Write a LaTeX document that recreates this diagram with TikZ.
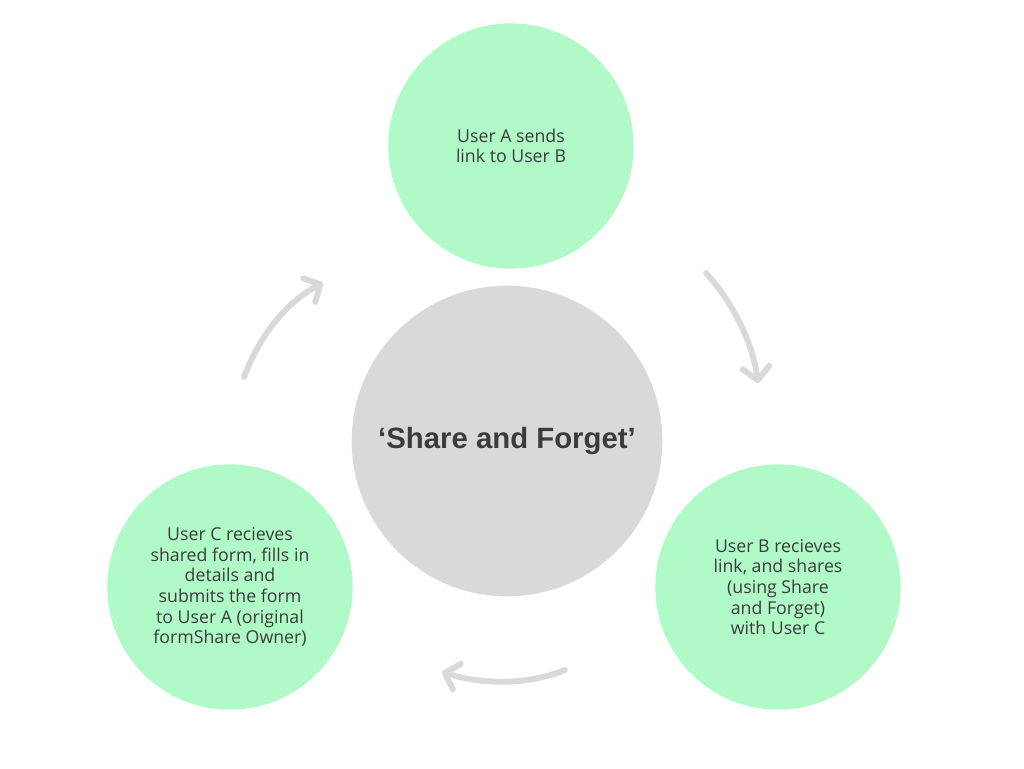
\documentclass[tikz,border=0pt]{standalone}
\usepackage{fontspec}
\setmainfont{Liberation Sans}
\newfontfamily\stepfont{Open Sans}
\usetikzlibrary{arrows.meta}
\usetikzlibrary{positioning}

\definecolor{stepgreen}{RGB}{176,250,199}
\definecolor{hubgray}{RGB}{217,217,217}
\definecolor{arrowgray}{RGB}{217,217,217}
\definecolor{textgray}{RGB}{60,60,60}

\tikzset{
  stepcircle/.style={circle,fill=stepgreen,minimum size=184pt,inner sep=0pt,
    align=center,text=textgray,font=\stepfont\fontsize{13.3}{15.5}\selectfont},
  hubcircle/.style={circle,fill=hubgray,minimum size=233pt,inner sep=0pt,
    text=textgray,font=\fontsize{22}{26}\selectfont\bfseries},
  flow/.style={arrowgray,line width=4.4pt,line cap=round,
    -{Straight Barb[length=9.5pt,width=20pt,round]}}
}

\begin{document}
\begin{tikzpicture}[x=0.75pt,y=-0.75pt]
    \useasboundingbox (0,0) rectangle (1024,768);
    \node[hubcircle] (hub) at (507,441) {`Share and Forget'};
    \node[stepcircle] (ua) at (511,146) {User A sends\\link to User B};
    \node[stepcircle] (ub) at (778,587) {User B recieves\\link, and shares\\(using Share\\and Forget)\\with User C};
    \node[stepcircle] (uc) at (230,587) {User C recieves\\shared form, fills in\\details and\\submits the form\\to User A (original\\formShare Owner)};
    \coordinate (a1) at (706,273);
    \coordinate (a2) at (758,383);
    \coordinate (b1) at (565,670);
    \coordinate (b2) at (442,672);
    \coordinate (c1) at (244,377);
    \coordinate (c2) at (323,283);
    \draw[flow] (a1) .. controls (735,305) and (753,345) .. (a2);
    \draw[flow] (b1) .. controls (525,686) and (480,684) .. (b2);
    \draw[flow] (c1) .. controls (262,330) and (290,300) .. (c2);
  \end{tikzpicture}
\end{document}
